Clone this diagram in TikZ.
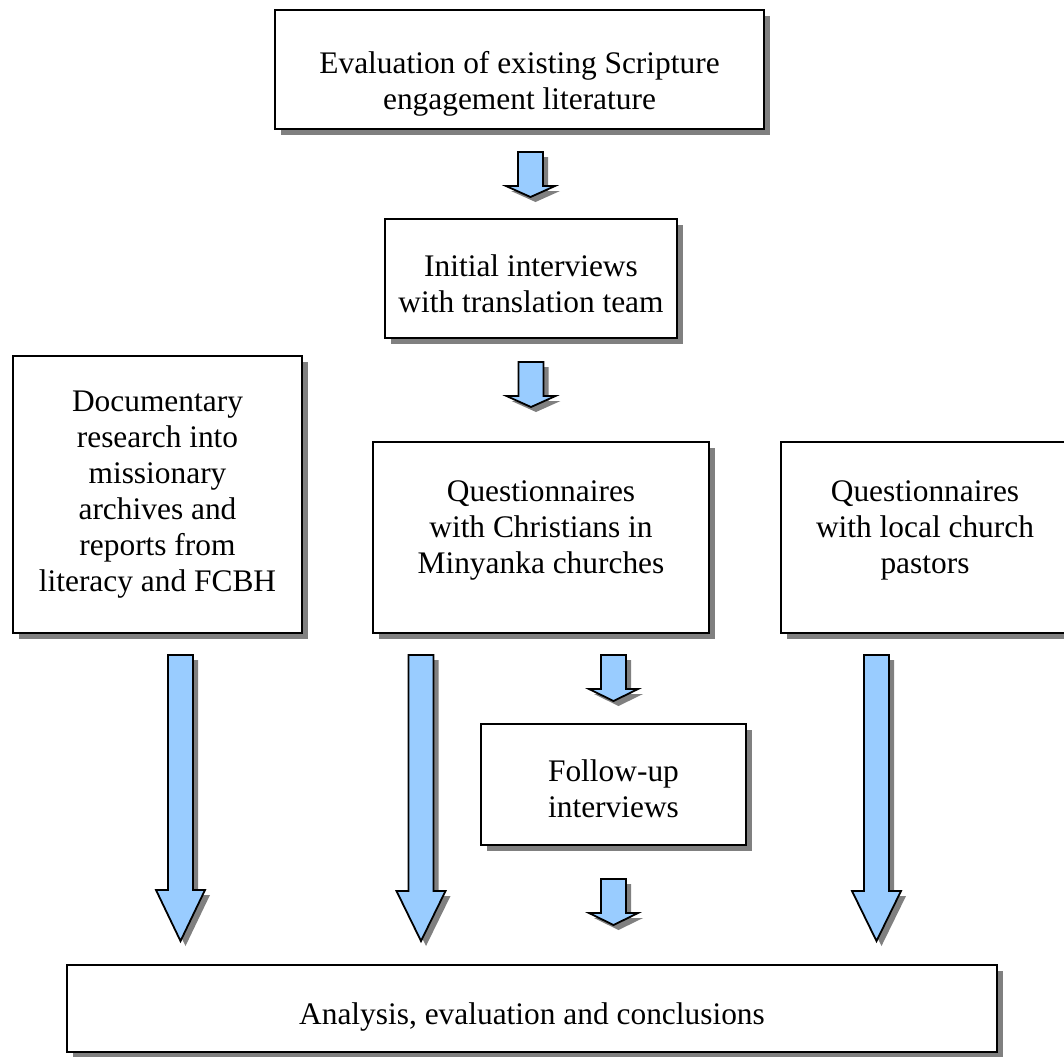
\documentclass[tikz,border=0pt]{standalone}
\usepackage{fontspec}
\setmainfont{Liberation Serif}
\usetikzlibrary{calc,shadows}
\definecolor{arrowblue}{HTML}{99CCFF}
\newcommand{\boxfont}{\fontsize{15.7}{18}\selectfont}
% struts that push the text of a box down (\downstrut) or up (\upstrut)
\newcommand{\downstrut}[1]{\rule{0pt}{#1}}
\newcommand{\upstrut}[1]{\rule[-#1]{0pt}{#1}}
\tikzset{%
box/.style={draw,line width=1pt,fill=white,align=center,font=\boxfont,inner sep=0pt,
            drop shadow={shadow xshift=3pt,shadow yshift=-3pt,fill=black!50,opacity=1}},
blockarrow/.style={draw,line width=0.9pt,fill=arrowblue,line join=miter,
            drop shadow={shadow xshift=2.5pt,shadow yshift=-2.5pt,fill=black!50,opacity=1}}
}

\begin{document}
\begin{tikzpicture}[x=0.5pt,y=-0.5pt]
\useasboundingbox (0,0) rectangle (1064,1056);
\node[box,minimum width=244.5pt,minimum height=59.5pt] (eval)     at (519.5,69.5)  {\downstrut{25pt}Evaluation of existing Scripture\\engagement literature};
\node[box,minimum width=146pt,minimum height=59.5pt]   (initial)  at (531,278.5)   {\downstrut{16pt}Initial interviews\\with translation team};
\node[box,minimum width=144.5pt,minimum height=138.5pt] (docs)    at (157.5,494.5) {Documentary\\research into\\missionary\\archives and\\reports from\\literacy and FCBH};
\node[box,minimum width=168pt,minimum height=95.5pt]   (quest)    at (541,537.5)   {Questionnaires\\with Christians in\\Minyanka churches\upstrut{10.5pt}};
\node[box,minimum width=144pt,minimum height=95.5pt]   (pastors)  at (925,537.5)   {Questionnaires\\with local church\\pastors\upstrut{10.5pt}};
\node[box,minimum width=132.5pt,minimum height=60.5pt] (followup) at (613.5,784.5) {\downstrut{15pt}Follow-up\\interviews};
\node[box,minimum width=465pt,minimum height=43.5pt]   (analysis) at (532,1008.5)  {\downstrut{19pt}Analysis, evaluation and conclusions};

% block arrows: source/target/x offset/gap below source/gap above target/head length
\foreach \src/\dst/\dx/\gs/\ge/\hd in {eval/initial/11/22/21/11,
                                       initial/quest/0/23/34/11,
                                       docs/analysis/23/21/23/51,
                                       quest/analysis/-120/21/23/50,
                                       quest/followup/72.5/21/22/12,
                                       pastors/analysis/-48.5/21/23/50,
                                       followup/analysis/0/33/39/12}
{
  \path[blockarrow] let \p1=($(\src.south)+(\dx,\gs)$), \p2=($(\dst.north)+(0,-\ge)$) in
    (\x1-6.25pt,\y1) -- (\x1+6.25pt,\y1) -- (\x1+6.25pt,\y2+\hd*0.5pt)
    -- (\x1+12.25pt,\y2+\hd*0.5pt) -- (\x1,\y2) -- (\x1-12.25pt,\y2+\hd*0.5pt)
    -- (\x1-6.25pt,\y2+\hd*0.5pt) -- cycle;
}
\end{tikzpicture}
\end{document}
